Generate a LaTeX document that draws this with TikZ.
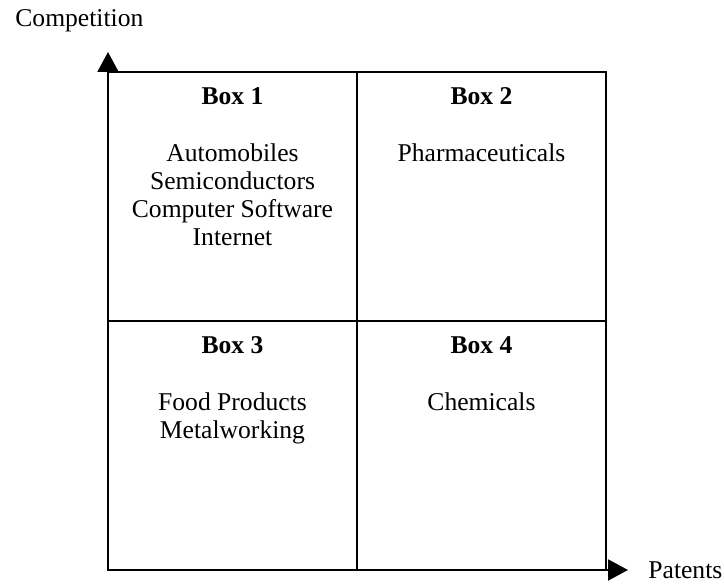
\documentclass[tikz,border=0pt]{standalone}
\usepackage{fontspec}
\setmainfont{Liberation Serif}
\usetikzlibrary{arrows.meta}
\newcommand{\stacklines}[1]{\begin{tabular}[t]{@{}c@{}}#1\end{tabular}}
\begin{document}
\begin{tikzpicture}[x=0.5pt,y=-0.5pt,
  quadrant/.style={draw, line width=1pt, minimum width=124.5pt, minimum height=124.5pt, inner sep=0pt, outer sep=0pt},
  axis/.style={line width=1pt, -{Triangle[width=10.5pt,length=10pt]}},
  boxtitle/.style={font=\fontsize{12.8}{14}\selectfont\bfseries, anchor=base, inner sep=0pt},
  boxtext/.style={font=\fontsize{12.8}{14}\selectfont, anchor=base, inner sep=0pt},
  axislabel/.style={font=\fontsize{12.8}{14}\selectfont, anchor=base west, inner sep=0pt}]
\useasboundingbox (0,0) rectangle (724,587);
\node[quadrant] (q1) at (232.5,196.5) {};
\node[quadrant] (q2) at (481.5,196.5) {};
\node[quadrant] (q3) at (232.5,445.5) {};
\node[quadrant] (q4) at (481.5,445.5) {};
\coordinate (ytip) at (108,52);
\coordinate (xtip) at (628,570);
\draw[axis] (q3.south west) -- (ytip);
\draw[axis] (q3.south west) -- (xtip);
\node[axislabel] (ylab) at (15,27) {Competition};
\node[axislabel] (xlab) at (648,579) {Patents};
\node[boxtitle] (t1) at (232.5,105) {Box 1};
\node[boxtitle] (t2) at (481.5,105) {Box 2};
\node[boxtitle] (t3) at (232.5,354) {Box 3};
\node[boxtitle] (t4) at (481.5,354) {Box 4};
\node[boxtext] (c1) at (232.5,162) {\stacklines{Automobiles\\Semiconductors\\Computer Software\\Internet}};
\node[boxtext] (c2) at (481.5,162) {Pharmaceuticals};
\node[boxtext] (c3) at (232.5,411) {\stacklines{Food Products\\Metalworking}};
\node[boxtext] (c4) at (481.5,411) {Chemicals};
\end{tikzpicture}
\end{document}
